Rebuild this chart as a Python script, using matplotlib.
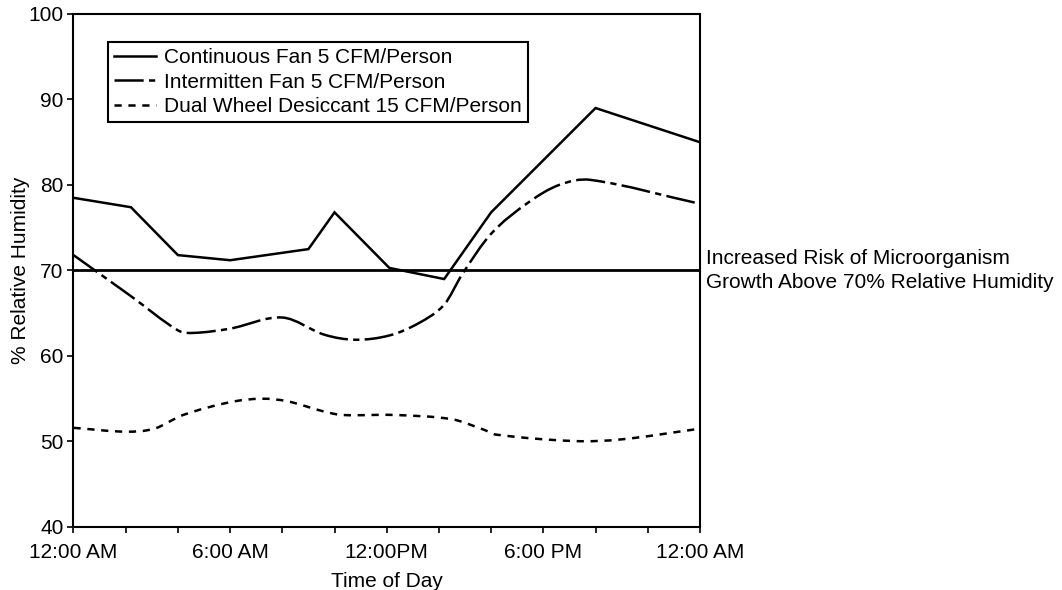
import numpy as np
import matplotlib.pyplot as plt
from matplotlib.path import Path
from matplotlib.patches import PathPatch
from matplotlib.lines import Line2D

plt.rcParams['font.family'] = ['Liberation Sans', 'DejaVu Sans']
plt.rcParams['lines.scale_dashes'] = False

# hours after midnight -> % relative humidity
cont_hours = [0, 2.2, 4, 6, 9, 10, 12.1, 14.2, 16, 20, 24]
cont_rh = [78.5, 77.4, 71.8, 71.2, 72.5, 76.8, 70.3, 69.0, 76.8, 89.0, 85.0]

inter_hours = [0, 2.2, 4, 4.6, 6, 8, 9.6, 10.8, 12.1, 13.2, 14.2, 14.9, 16, 17.4, 18.6, 19.8, 24]
inter_rh = [71.8, 67.0, 63.0, 62.7, 63.2, 64.5, 62.5, 61.9, 62.4, 63.8, 66.0, 69.6, 74.3, 77.9, 80.0, 80.6, 77.8]

dual_hours = [0, 2, 3.1, 4.2, 6, 7.2, 8.2, 9.6, 10.3, 12.3, 14.5, 15.7, 16.2, 19.2, 21.0, 24]
dual_rh = [51.6, 51.15, 51.5, 53.1, 54.6, 55.0, 54.7, 53.5, 53.1, 53.1, 52.6, 51.4, 50.8, 50.05, 50.25, 51.5]

threshold = 70
series_names = ['Continuous Fan 5 CFM/Person',
                'Intermitten Fan 5 CFM/Person',
                'Dual Wheel Desiccant 15 CFM/Person']
tick_hours = list(range(0, 25, 2))
tick_labels = ['12:00 AM', '', '', '6:00 AM', '', '', '12:00PM', '', '', '6:00 PM', '', '', '12:00 AM']
note = 'Increased Risk of Microorganism\nGrowth Above 70% Relative Humidity'


def smooth_path(x, y):
    # cubic bezier through the points (like a spreadsheet "smoothed line")
    x = np.asarray(x, float)
    y = np.asarray(y, float)
    m = np.empty(len(x))
    m[1:-1] = (y[2:] - y[:-2]) / (x[2:] - x[:-2])
    m[0] = (y[1] - y[0]) / (x[1] - x[0])
    m[-1] = (y[-1] - y[-2]) / (x[-1] - x[-2])
    verts = [(x[0], y[0])]
    codes = [Path.MOVETO]
    for i in range(len(x) - 1):
        d = (x[i + 1] - x[i]) / 3
        verts += [(x[i] + d, y[i] + m[i] * d),
                  (x[i + 1] - d, y[i + 1] - m[i + 1] * d),
                  (x[i + 1], y[i + 1])]
        codes += [Path.CURVE4] * 3
    return Path(verts, codes)


fs = 15
lw = 1.8
inter_ls = (0, (21, 3.8, 4.5, 3.8))
dual_ls = (0, (5.2, 4.8))

fig, ax = plt.subplots(figsize=(10.62, 5.9), dpi=100)
fig.subplots_adjust(left=0.0692, right=0.6591, bottom=0.1068, top=0.9763)

ax.plot(cont_hours, cont_rh, color='black', lw=lw, solid_joinstyle='miter')
ax.add_patch(PathPatch(smooth_path(inter_hours, inter_rh), fill=False,
                       ec='black', lw=lw, ls=inter_ls))
ax.add_patch(PathPatch(smooth_path(dual_hours, dual_rh), fill=False,
                       ec='black', lw=lw, ls=dual_ls))
ax.axhline(threshold, color='black', lw=2)

ax.text(1.009, threshold, note, transform=ax.get_yaxis_transform(),
        ha='left', va='center', fontsize=fs, linespacing=1.35, clip_on=False)

ax.set_xlim(0, 24)
ax.set_ylim(40, 100)
ax.set_xticks(tick_hours)
ax.set_xticklabels(tick_labels)
ax.set_yticks(range(40, 101, 10))
ax.tick_params(direction='out', length=4, width=1.2, labelsize=fs)
ax.tick_params(axis='x', pad=7.5)
ax.tick_params(axis='y', pad=3.2)
for s in ax.spines.values():
    s.set_linewidth(1.5)

ax.set_xlabel('Time of Day', fontsize=fs, labelpad=7)
ax.set_ylabel('% Relative Humidity', fontsize=fs, labelpad=-1)

handles = [Line2D([], [], color='black', lw=lw),
           Line2D([], [], color='black', lw=lw, ls=inter_ls),
           Line2D([], [], color='black', lw=lw, ls=dual_ls)]
leg = ax.legend(handles, series_names, loc='upper left', bbox_to_anchor=(0.055, 0.945),
                fontsize=fs, frameon=True, fancybox=False, edgecolor='black',
                framealpha=1, handlelength=2.0, handletextpad=0.4, borderpad=0.3,
                labelspacing=0.25, borderaxespad=0)
leg.get_frame().set_linewidth(1.5)

fig.savefig('out.png', dpi=100)
